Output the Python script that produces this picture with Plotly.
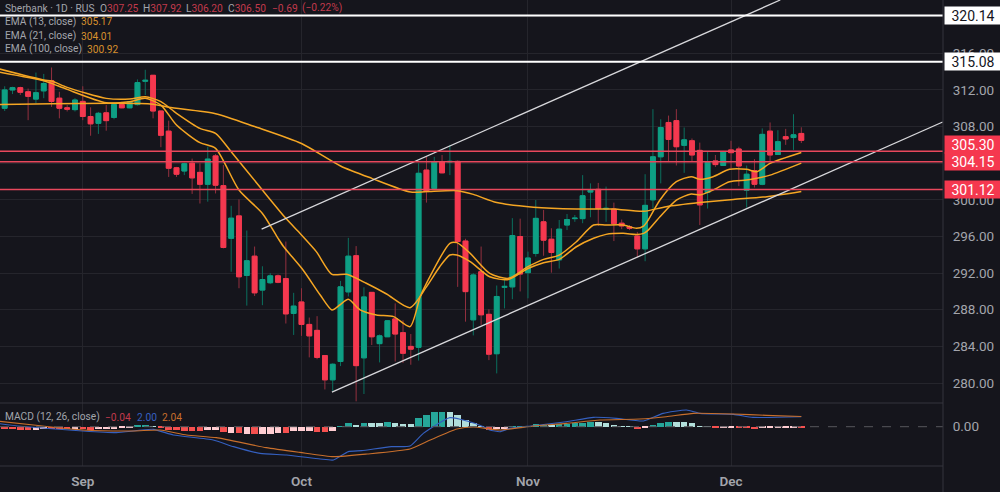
import plotly.graph_objects as go
from plotly.subplots import make_subplots

# daily candles
open_ = [310.0, 312.0, 312.25, 311.8, 311.0, 311.9, 313.0, 311.1, 310.05, 309.85, 310.75, 309.1, 308.35, 309.5, 309.0, 310.4, 310.05, 310.4, 312.95, 313.6,
         309.7, 307.5, 303.5, 303.15, 304.0, 303.0, 301.7, 304.8, 301.55, 295.8, 298.25, 291.75, 293.85, 290.15, 290.95, 291.7, 291.4, 287.6, 288.85, 286.4,
         285.75, 283.0, 280.35, 282.35, 289.95, 293.9, 282.75, 289.9, 284.3, 285.05, 287.0, 285.5, 284.0, 283.9, 303.25, 301.25, 304.15, 304.15, 304.2, 295.5,
         286.9, 292.15, 287.5, 283.2, 290.45, 290.5, 296.0, 292.05, 294.15, 297.6, 295.7, 293.45, 297.25, 297.95, 297.95, 300.85, 301.15, 299.0, 299.0, 297.45,
         297.05, 296.05, 294.65, 300.0, 304.7, 308.45, 308.65, 305.95, 306.45, 305.4, 300.8, 304.25, 303.75, 305.45, 305.55, 301.05, 303.2, 301.7, 307.5, 304.95,
         306.9, 306.8, 307.25]
high = [312.4, 312.35, 312.35, 312.15, 313.9, 313.75, 314.45, 311.8, 310.35, 311.1, 312.4, 310.1, 309.6, 310.35, 310.6, 310.7, 310.8, 313.15, 314.2, 313.6,
        309.7, 308.65, 303.6, 304.05, 304.5, 304.0, 305.8, 305.0, 303.8, 299.35, 300.05, 296.65, 294.9, 292.75, 292.0, 291.85, 295.45, 289.85, 290.35, 287.15,
        287.3, 283.05, 282.15, 291.15, 295.85, 294.95, 290.45, 289.9, 285.3, 286.85, 288.7, 286.85, 285.35, 304.0, 304.7, 304.7, 304.9, 306.0, 304.3, 295.75,
        292.0, 294.9, 288.05, 290.65, 291.25, 298.0, 297.95, 294.35, 299.98, 298.9, 296.9, 297.8, 298.45, 298.35, 302.7, 301.8, 301.85, 301.45, 299.7, 297.85,
        297.25, 296.5, 302.8, 309.9, 308.8, 309.2, 309.9, 307.9, 306.7, 306.25, 305.25, 304.9, 305.35, 306.45, 305.8, 303.75, 304.45, 307.8, 308.45, 307.6,
        307.75, 309.35, 307.92]
low = [309.7, 311.55, 311.45, 308.7, 310.55, 311.1, 310.15, 308.9, 309.65, 309.65, 308.7, 307.0, 307.2, 307.55, 308.8, 310.0, 310.0, 310.3, 311.45, 308.9,
       305.75, 302.5, 302.5, 302.7, 300.65, 299.6, 299.8, 300.7, 294.7, 292.15, 290.35, 288.45, 289.5, 288.5, 290.8, 290.9, 286.5, 285.25, 285.15, 282.8,
       282.6, 279.3, 279.15, 281.85, 289.45, 278.0, 278.8, 284.15, 282.25, 285.05, 282.35, 282.2, 282.0, 282.45, 299.7, 301.15, 302.9, 302.7, 290.5, 286.7,
       285.2, 286.35, 282.5, 281.05, 288.15, 289.15, 290.0, 289.25, 293.8, 293.9, 292.05, 292.5, 296.7, 297.6, 297.45, 298.1, 297.15, 297.6, 295.5, 296.8,
       296.7, 293.7, 293.3, 299.05, 301.8, 304.15, 303.75, 302.95, 304.15, 297.25, 299.05, 303.6, 303.7, 303.45, 301.5, 299.15, 301.35, 301.6, 304.05, 304.9,
       306.0, 305.45, 306.2]
close = [312.0, 312.25, 311.75, 311.3, 311.7, 312.7, 310.75, 310.0, 309.9, 310.9, 309.1, 308.3, 309.45, 308.65, 310.4, 310.05, 310.7, 312.8, 313.05, 309.7,
         307.05, 303.45, 302.8, 303.95, 302.4, 301.7, 304.45, 301.6, 294.8, 298.0, 291.6, 293.35, 289.85, 291.3, 291.7, 291.0, 287.55, 288.4, 286.4, 285.15,
         282.8, 280.35, 282.05, 290.5, 293.85, 281.9, 289.4, 285.05, 285.15, 286.8, 285.35, 283.25, 283.7, 302.9, 300.9, 304.15, 302.95, 304.2, 295.45, 289.98,
         291.8, 287.45, 283.15, 289.45, 290.55, 296.1, 291.9, 293.65, 297.98, 295.6, 294.25, 296.8, 297.85, 298.0, 300.45, 301.05, 299.05, 299.07, 297.4, 297.15,
         296.9, 294.65, 299.4, 304.7, 307.9, 306.6, 305.8, 306.55, 304.9, 299.45, 304.1, 303.85, 305.25, 305.15, 303.7, 302.8, 301.7, 307.15, 304.9, 306.35,
         306.65, 307.1, 306.5]

ema13_idx = [-1, 5, 6, 8, 13, 16, 18, 20, 22, 25, 27, 30, 33, 35, 35.7, 38.2, 40.4, 41.9, 42.9, 44, 45.5, 47.6, 49.8, 51.9, 53.2, 54, 57, 57.9, 59.6, 62.1, 64.5,
             67, 69, 71, 73.2, 75.4, 77, 79.2, 80.9, 81.8, 82.4, 83.9, 86, 87.9, 89, 90.7, 92.8, 95, 96.3, 98, 102]
ema13 = [313.99, 313.0, 312.72, 312.06, 310.6, 310.72, 311.08, 310.35, 308.17, 306.24, 305.62, 301.07, 298.52, 295.8, 294.9, 292.34, 289.61, 287.98, 288.52, 289.14, 287.98, 287.43, 287.25, 286.16, 289.43, 290.89, 295.26, 295.33, 294.16, 291.98, 291.43,
         292.7, 293.5, 293.97, 295.43, 297.25, 297.25, 297.25, 296.89, 297.14, 297.8, 299.98, 301.98, 302.53, 302.24, 302.53, 303.33, 303.33, 303.07, 303.98, 305.17]

ema21_idx = [-1, 5, 6, 8, 13, 16, 18, 20, 22, 25, 27, 29, 33, 36, 37.8, 39.9, 41.9, 43.8, 46.3, 48.9, 51.9, 54, 55.7, 57, 57.9, 59.6, 62.1, 64.5,
             67, 69, 71, 73.2, 75.4, 77, 79.2, 80.9, 81.8, 82.4, 83.9, 86, 87.9, 89, 90.7, 92.8, 95, 96.3, 98, 102]
ema21 = [314.36, 313.08, 312.97, 312.28, 311.08, 311.0, 311.26, 310.72, 309.45, 307.8, 307.26, 305.26, 301.07, 297.98, 296.35, 294.35, 291.87, 291.87, 290.89, 289.72, 288.23, 290.5, 292.7, 293.98, 293.98, 293.25, 291.6, 291.3,
         292.5, 293.14, 293.5, 294.88, 295.8, 296.23, 296.34, 296.23, 296.34, 296.7, 298.16, 299.98, 300.63, 300.53, 301.07, 301.98, 302.16, 302.35, 302.7, 304.01]

ema100_idx = [-1, 19, 21, 27, 32, 38, 43, 47, 52, 54, 58, 60, 63, 67.7, 73.2, 77.9, 81.8, 84.7, 89, 93.3, 97.1, 102]
ema100 = [310.4, 310.45, 310.1, 309.4, 308.0, 306.15, 303.7, 302.35, 300.85, 300.9, 301.0, 300.6, 299.7, 299.2, 299.0, 299.0, 298.75, 299.25, 299.7, 300.05, 300.3, 300.92]

# MACD pane
hist = [-.47, -.47, -.6, -.67, -.6, -.53, -.53, -.53, -.47, -.53, -.53, -.6, -.53, -.53, -.4, -.2, -.2, .2, .27, .13,
        -.2, -.67, -.67, -.8, -.87, -.87, -.73, -.73, -1.13, -1.27, -1.33, -1.47, -1.53, -1.4, -1.4, -1.2, -1.2, -.93, -.93, -.93,
        -1.0, -1.0, -.87, .07, .8, .4, .8, .73, .67, .87, .73, .53, .53, 1.8, 2.4, 2.87, 3.0, 3.0, 2.27, 1.33,
        .8, .13, -.67, -.53, -.47, .07, .07, .07, .47, .33, .4, .47, .6, .67, .73, .87, .87, .67, .33, .13,
        .07, -.4, -.2, .33, .8, .93, .87, .87, .67, .13, .07, -.07, -.07, -.07, -.2, -.33, -.53, -.33, -.33, -.2,
        -.13, -.07, -.07]
# 1 where the histogram bar is drawn as moving away from zero
hist_growing = [1, 1, 1, 1, 0, 0, 1, 1, 1, 0, 1, 1, 0, 0, 0, 0, 0, 1, 1, 0,
                1, 1, 1, 1, 1, 1, 0, 0, 1, 0, 1, 0, 1, 0, 0, 0, 1, 0, 0, 0,
                1, 1, 0, 1, 1, 0, 1, 0, 0, 1, 0, 0, 0, 1, 1, 1, 1, 0, 0, 0,
                0, 0, 1, 0, 0, 1, 1, 1, 1, 1, 0, 1, 1, 1, 1, 1, 0, 0, 0, 0,
                0, 1, 0, 1, 1, 1, 0, 0, 0, 0, 0, 1, 0, 0, 1, 1, 1, 0, 0, 0,
                0, 0, 1]

macd_idx = [-1, 2, 10, 14.3, 19, 21.6, 26.7, 29.3, 32.7, 36.1, 40.4, 42.1, 44, 45.7, 49.5, 51.9, 53.6, 57, 59.2, 61.3, 62.1, 63.4, 64.7, 67.7, 71.9, 75.4, 78.3, 81.8, 84.3, 87.3, 89, 93.3, 95.8, 102]
macd = [.67, .1, -.86, -1.19, -.53, -1.66, -2.66, -3.99, -5.33, -5.66, -6.46, -6.66, -4.99, -4.79, -3.99, -3.86, -1.33, 1.81, 1.14, 0, -.66, -1.0, -.33, .2, 1.0, 1.87, 1.67, 1.14, 2.67, 3.34, 2.67, 2.47, 1.87, 2.0]
signal_idx = [-1, 3.7, 10, 16.5, 19.9, 23.3, 27.1, 33.5, 37.8, 42.1, 46.4, 51.9, 54.5, 57.9, 60, 63.4, 67.7, 71.9, 76.2, 81.3, 84.7, 88.2, 93.3, 97.5, 102]
signal = [1.14, .34, -.66, -.86, -.66, -1.66, -2.19, -4.19, -5.13, -5.99, -5.46, -4.46, -2.66, -.46, -.06, -.66, .14, .67, 1.34, 1.54, 2.0, 2.67, 2.54, 2.27, 2.04]

# drawn channel, two ends each
upper_channel_idx = [32.9, 99.3]
upper_channel = [296.8, 321.82]
lower_channel_idx = [41.9, 120.1]
lower_channel = [279.0, 308.5]

white_levels = [320.14, 315.08]
red_levels = [305.30, 304.15, 301.12]

month_idx = [10, 38, 67, 93]
month_labels = ["Sep", "Oct", "Nov", "Dec"]

BG = "#15151c"
GRID = "#25252c"
SEP = "#35353c"
GREEN = "#0e9f84"
RED = "#f5384f"
WICK_UP = "#0b6f5e"
WICK_DOWN = "#93303f"
ORANGE = "#f5a623"
FONT = "Roboto"
TEXT = "#a3a5ac"
DIM_RED = "#c23a4c"
AMBER = "#d8902c"
MACD_BLUE = "#3560c0"
MACD_ORANGE = "#c86f2c"

candles = list(range(len(open_)))

fig = make_subplots(rows=2, cols=1, shared_xaxes=True, vertical_spacing=0, row_heights=[403, 63])

# wicks first, then the bodies again on top so they stay bright
fig.add_trace(go.Candlestick(x=candles, open=open_, high=high, low=low, close=close,
                             increasing=dict(line=dict(color=WICK_UP, width=1), fillcolor=GREEN),
                             decreasing=dict(line=dict(color=WICK_DOWN, width=1), fillcolor=RED)), row=1, col=1)
fig.add_trace(go.Candlestick(x=candles, open=open_, close=close,
                             high=[max(o, c) for o, c in zip(open_, close)],
                             low=[min(o, c) for o, c in zip(open_, close)],
                             increasing=dict(line=dict(color=GREEN, width=1), fillcolor=GREEN),
                             decreasing=dict(line=dict(color=RED, width=1), fillcolor=RED)), row=1, col=1)

for xs, ys in [(ema100_idx, ema100), (ema21_idx, ema21), (ema13_idx, ema13)]:
    fig.add_trace(go.Scatter(x=xs, y=ys, mode="lines", line=dict(color=ORANGE, width=1.5, shape="spline", smoothing=0.7)), row=1, col=1)

for xs, ys in [(upper_channel_idx, upper_channel), (lower_channel_idx, lower_channel)]:
    fig.add_trace(go.Scatter(x=xs, y=ys, mode="lines", line=dict(color="#d8d8dc", width=1.3)), row=1, col=1)

bar_colors = []
for v, g in zip(hist, hist_growing):
    if v >= 0:
        bar_colors.append("#26a69a" if g else "#b2dfdb")
    else:
        bar_colors.append("#f5504f" if g else "#ffcdd2")
fig.add_trace(go.Bar(x=candles, y=hist, width=0.84, marker=dict(color=bar_colors, line=dict(width=0))), row=2, col=1)
fig.add_trace(go.Scatter(x=macd_idx, y=macd, mode="lines", line=dict(color=MACD_BLUE, width=1.1, shape="spline", smoothing=0.5)), row=2, col=1)
fig.add_trace(go.Scatter(x=signal_idx, y=signal, mode="lines", line=dict(color=MACD_ORANGE, width=1.1, shape="spline", smoothing=0.5)), row=2, col=1)

for lvl in white_levels:
    fig.add_hline(y=lvl, line=dict(color="#ffffff", width=2), row=1, col=1)
for lvl in red_levels:
    fig.add_hline(y=lvl, line=dict(color="#e8485c", width=1.5), row=1, col=1)
fig.add_hline(y=0, line=dict(color="#55555c", width=1, dash="dash"), row=2, col=1)

# pane separators
fig.add_shape(type="line", xref="paper", yref="paper", x0=0, x1=1, y0=63 / 466, y1=63 / 466, line=dict(color=SEP, width=1))
fig.add_shape(type="line", xref="paper", yref="paper", x0=0, x1=1, y0=0, y1=0, line=dict(color=SEP, width=1))
fig.add_shape(type="line", xref="paper", yref="paper", x0=1, x1=1, y0=-26 / 466, y1=1, line=dict(color=SEP, width=1))


def price_label(y, text, bg, fg, shift=0):
    fig.add_annotation(xref="paper", yref="y", x=1, y=y, yshift=shift, xanchor="left", xshift=1, text=text,
                       showarrow=False, bgcolor=bg, width=56, height=17, borderpad=0, align="center",
                       font=dict(family=FONT, size=14, color=fg))


def legend_bit(px, py, text, color=TEXT):
    fig.add_annotation(xref="paper", yref="paper", x=px / 943, y=1 - py / 466, xanchor="left", yanchor="middle",
                       xshift=-1, text=text, showarrow=False, font=dict(family=FONT, size=10.2, color=color))


for lvl in white_levels:
    price_label(lvl, f"{lvl:.2f}", "#ffffff", "#15151c")
price_label(red_levels[0], f"{red_levels[0]:.2f}", RED, "#ffffff", shift=7)
price_label(red_levels[1], f"{red_levels[1]:.2f}", RED, "#ffffff")
price_label(red_levels[2], f"{red_levels[2]:.2f}", RED, "#ffffff")

legend_bit(4, 8, "Sberbank · 1D · RUS")
legend_bit(99, 8, f"O<span style='color:{DIM_RED}'>307.25</span>")
legend_bit(142, 8, f"H<span style='color:{DIM_RED}'>307.92</span>")
legend_bit(185, 8, f"L<span style='color:{DIM_RED}'>306.20</span>")
legend_bit(227, 8, f"C<span style='color:{DIM_RED}'>306.50</span>")
legend_bit(271, 8, "−0.69", DIM_RED)
legend_bit(301, 8, "(−0.22%)", DIM_RED)
legend_bit(4, 22, "EMA (13, close)")
legend_bit(80, 22, "305.17", AMBER)
legend_bit(4, 36, "EMA (21, close)")
legend_bit(80, 36, "304.01", AMBER)
legend_bit(4, 49, "EMA (100, close)")
legend_bit(86, 49, "300.92", AMBER)
legend_bit(4, 417, "MACD (12, 26, close)")
legend_bit(104, 417, "−0.04", DIM_RED)
legend_bit(136, 417, "2.00", MACD_BLUE)
legend_bit(161, 417, "2.04", MACD_ORANGE)

fig.update_xaxes(range=[-0.6, 120.14], tickvals=month_idx, ticktext=month_labels, showgrid=True, gridcolor=GRID, gridwidth=1,
                 zeroline=False, ticks="outside", ticklen=3, tickcolor=BG, rangeslider_visible=False,
                 tickfont=dict(family=FONT, size=13.5, color=TEXT, weight=600))
fig.update_yaxes(side="right", showgrid=True, gridcolor=GRID, gridwidth=1, zeroline=False, ticks="outside", ticklen=6, tickcolor=BG,
                 tickfont=dict(family=FONT, size=13.5, color=TEXT))
fig.update_yaxes(range=[277.82, 321.82], tick0=280, dtick=4, tickformat=".2f", row=1, col=1)
fig.update_yaxes(range=[-7.86, 4.74], tickvals=[0], ticktext=["0.00"], showgrid=False, row=2, col=1)

fig.update_layout(width=1000, height=492, margin=dict(l=0, r=57, t=0, b=26), paper_bgcolor=BG, plot_bgcolor=BG,
                  showlegend=False, boxgap=0.12, bargap=0)

# the page's default body margin would push the chart off the window
fig.write_html("out.html", config={"displayModeBar": False},
               post_script="document.body.style.margin='0';document.body.style.overflow='hidden';")
